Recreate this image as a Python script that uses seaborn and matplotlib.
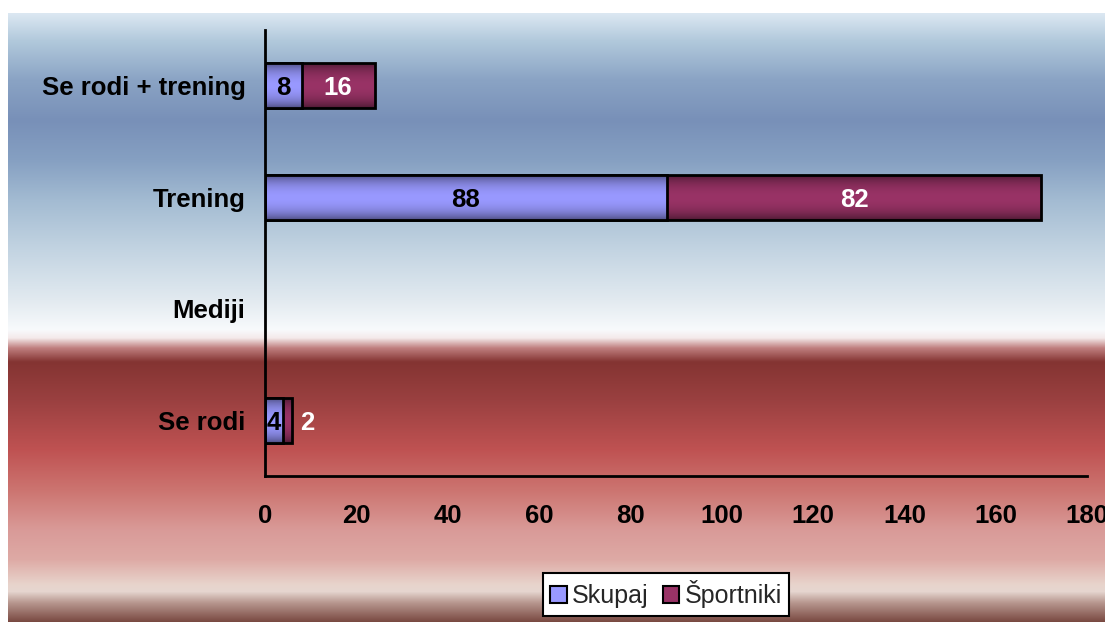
import numpy as np
import pandas as pd
import matplotlib
matplotlib.use("Agg")
import matplotlib.pyplot as plt
from matplotlib.colors import to_rgb
from matplotlib.patches import Patch
import seaborn as sns

# Data
categories = ["Se rodi + trening", "Trening", "Mediji", "Se rodi"]
skupaj = [8, 88, 0, 4]
sportniki = [16, 82, 0, 2]
series_names = ["Skupaj", "Športniki"]
x_ticks = [0, 20, 40, 60, 80, 100, 120, 140, 160, 180]

C_SKUPAJ = "#9999ff"
C_SPORT = "#993366"
FS = 18.5

sns.set_style("white")
plt.rcParams["font.family"] = ["Liberation Sans", "DejaVu Sans"]

W, H = 1105, 622
fig = plt.figure(figsize=(W / 100, H / 100), dpi=100)
fig.patch.set_facecolor("white")

# Banded backdrop: blue sky fading to white, then deep red fading to rose
stops = [
    (13, "#dce8f2"), (40, "#b2c9dc"), (80, "#8aa3c4"), (120, "#7890b8"),
    (160, "#86a0c2"), (200, "#a3bbd2"), (250, "#c3d4e2"), (300, "#e2eaf0"),
    (330, "#f8fafc"), (338, "#f4eaea"), (348, "#c08080"), (362, "#843432"),
    (400, "#9a4040"), (450, "#bf5252"), (490, "#cc7470"), (530, "#d99a98"),
    (560, "#deaaa5"), (585, "#e8d4cc"), (592, "#e6d6d0"), (603, "#b89890"),
    (622, "#7a4a42"),
]
ys = np.arange(13, 623)
sy = np.array([s[0] for s in stops])
sc = np.array([to_rgb(s[1]) for s in stops])
grad = np.stack([np.interp(ys, sy, sc[:, k]) for k in range(3)], axis=1)
bg = fig.add_axes([8 / W, 0, 1 - 8 / W, (H - 13) / H], zorder=-5)
bg.imshow(grad[:, None, :], aspect="auto", extent=(0, 1, 0, 1))
bg.set_axis_off()

ax = fig.add_axes([265 / W, 1 - 476 / H, (1087 - 265) / W, (476 - 30) / H])
ax.set_facecolor("none")

df = pd.DataFrame({
    "kategorija": categories,
    "skupaj": skupaj,
    "skupno": [a + b for a, b in zip(skupaj, sportniki)],
})

sns.barplot(data=df, x="skupno", y="kategorija", color=C_SPORT, width=0.4,
            edgecolor="black", linewidth=2, saturation=1, ax=ax)
n_first = len(ax.patches)
sns.barplot(data=df, x="skupaj", y="kategorija", color=C_SKUPAJ, width=0.4,
            edgecolor="black", linewidth=2, saturation=1, ax=ax)


def shade(color, n=64):
    """Vertical cylinder shading: light in the middle, darker at the edges."""
    base = np.array(to_rgb(color))
    t = np.linspace(-1, 1, n)
    f = 0.5 + 0.5 * (1 - t ** 2) ** 0.8
    return (base[None, :] * f[:, None])[:, None, :]


for i, p in enumerate(ax.patches):
    z = 2 if i < n_first else 3
    p.set_zorder(z)
    if p.get_width() <= 0:
        p.set_visible(False)
        continue
    col = p.get_facecolor()
    p.set_facecolor("none")
    x0, y0 = p.get_x(), p.get_y()
    x1, y1 = x0 + p.get_width(), y0 + p.get_height()
    im = ax.imshow(shade(col), aspect="auto", extent=(x0, x1, y1, y0),
                   zorder=z - 0.5, interpolation="bilinear")
    im.set_clip_path(p)

# Value labels
for i, (a, b) in enumerate(zip(skupaj, sportniki)):
    if a > 0:
        ax.text(a / 2, i, f"{a}", ha="center", va="center_baseline",
                color="black", fontsize=FS, fontweight="bold", zorder=5)
    if b > 0:
        if b >= 5:
            ax.text(a + b / 2, i, f"{b}", ha="center", va="center_baseline",
                    color="white", fontsize=FS, fontweight="bold", zorder=5)
        else:
            ax.annotate(f"{b}", xy=(a + b, i), xytext=(15, 0),
                        textcoords="offset pixels", ha="center",
                        va="center_baseline", color="white", fontsize=FS,
                        fontweight="bold", zorder=5)

ax.set_xlim(0, 180)
ax.set_ylim(3.5, -0.5)
ax.set_xticks(x_ticks)
ax.set_xticklabels([str(t) for t in x_ticks])
ax.set_xlabel("")
ax.set_ylabel("")
ax.tick_params(axis="x", direction="out", length=5, width=2, color="black",
               pad=15, labelsize=FS)
ax.tick_params(axis="y", length=0, pad=14, labelsize=FS)
for lab in ax.get_xticklabels() + ax.get_yticklabels():
    lab.set_fontweight("bold")
    lab.set_color("black")
for side in ("top", "right"):
    ax.spines[side].set_visible(False)
for side in ("left", "bottom"):
    ax.spines[side].set_color("black")
    ax.spines[side].set_linewidth(2)
ax.spines["left"].set_zorder(6)

handles = [Patch(facecolor=C_SKUPAJ, edgecolor="black", linewidth=1.5),
           Patch(facecolor=C_SPORT, edgecolor="black", linewidth=1.5)]
leg = fig.legend(handles, series_names, loc="center",
                 bbox_to_anchor=(666 / W, 1 - 594.5 / H), ncol=2,
                 fontsize=18, frameon=True, fancybox=False, framealpha=1,
                 edgecolor="black", facecolor="white", handlelength=0.65,
                 handleheight=0.65, handletextpad=0.2, columnspacing=0.6,
                 borderpad=0.3, borderaxespad=0)
leg.get_frame().set_linewidth(1.5)

fig.savefig("out.png", dpi=100)
